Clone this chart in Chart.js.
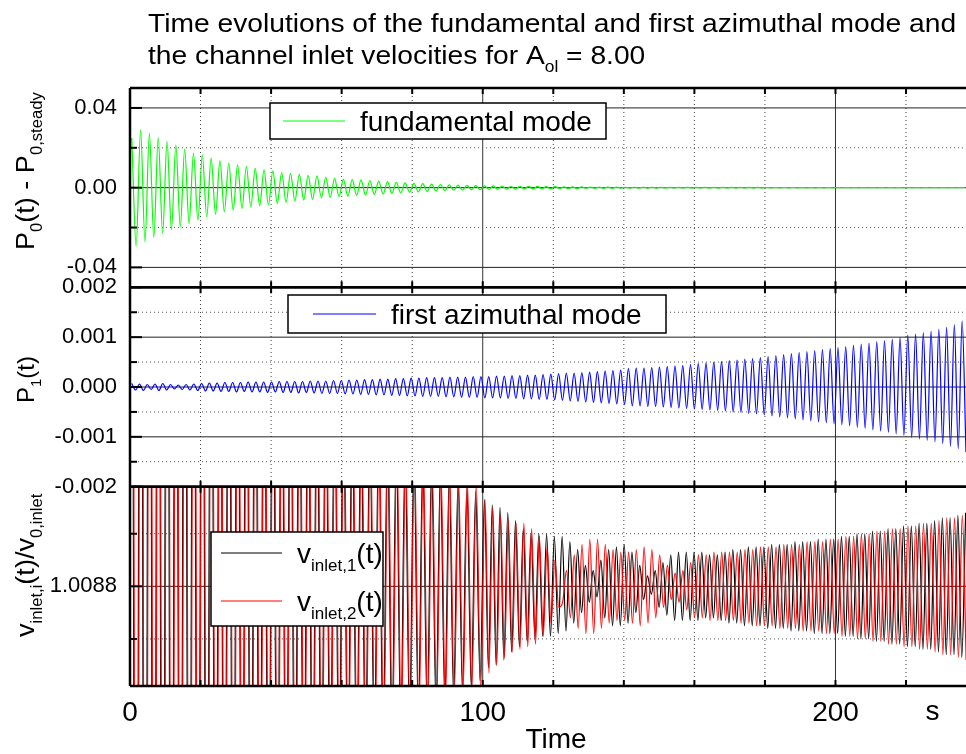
<!DOCTYPE html>
<html>
<head>
<meta charset="utf-8">
<title>Time evolutions of the fundamental and first azimuthal mode</title>
<script src="https://cdn.jsdelivr.net/npm/chart.js@4.4.1/dist/chart.umd.min.js"></script>
<style>
  html, body { margin: 0; padding: 0; background: #fff; }
  canvas { display: block; }
</style>
</head>
<body>
<canvas id="modesChart" width="966" height="754"></canvas>
<script>
// time axis
const timeGrid = [0, 20, 40, 60, 80, 100, 120, 140, 160, 180, 200, 220];
const timeLabels = [0, 100, 200];

// fundamental mode P0(t) - P0,steady : successive peaks and troughs, one every p0Step seconds
const p0Start = 0.5;
const p0Step = 1.25;
const p0Values = [
  0.0249, -0.0294, 0.0291, -0.0272, 0.0274, -0.0250, 0.0252, -0.0230, 0.0232, -0.0210,
  0.0215, -0.0197, 0.0193, -0.0180, 0.0173, -0.0163, 0.0165, -0.0146, 0.0148, -0.0133,
  0.0136, -0.0121, 0.0123, -0.0113, 0.0114, -0.0104, 0.0106, -0.0096, 0.0097, -0.0091,
  0.0089, -0.0087, 0.0084, -0.0079, 0.0076, -0.0074, 0.0072, -0.0067, 0.0067, -0.0062,
  0.0062, -0.0059, 0.0059, -0.0050, 0.0052, -0.0049, 0.0047, -0.0045, 0.0042, -0.0042,
  0.0040, -0.0039, 0.0039, -0.0037, 0.0036, -0.0034, 0.0033, -0.0032, 0.0030, -0.0029,
  0.0027, -0.0026, 0.0024, -0.0023, 0.0022, -0.0021, 0.0020, -0.0019, 0.0018, -0.0017,
  0.0016, -0.0015, 0.0014, -0.0013, 0.0013, -0.0012, 0.0011, -0.0011, 0.0010, -0.0010,
  0.0009, -0.0009, 0.0009, -0.0008, 0.0008, -0.0008, 0.0007, -0.0007, 0.0007, -0.0006,
  0.0006, -0.0006, 0.0006, -0.0005, 0.0005, -0.0005, 0.0005, -0.0004, 0.0004, -0.0004,
  0.0004, -0.0004, 0.0004, -0.0003, 0.0003, -0.0003, 0.0003, -0.0003, 0.0003, -0.0003,
  0.0003, -0.0002, 0.0002, -0.0002, 0.0002, -0.0002, 0.0002, -0.0002, 0.0002, -0.0002,
  0.0002, -0.0001, 0.00015, -0.00015, 0.00015, -0.0001, 0.00012, -0.0001, 0.0001, -0.0001,
  0.0001, -0.0001, 0.0001, -0.0001, 0.0001, -0.0001, 0.0001, -0.0001, 0.0001, -0.0001,
  0.0001, -0.0001, 0.0001, -0.00008, 0.00008, -0.00008, 0.00008, -0.00008, 0.00008, -0.00008,
  0.00008, -0.00006, 0.00006, -0.00006, 0.00006, -0.00006, 0.00006, -0.00006, 0.00006, -0.00006,
  0.00006, -0.00005, 0.00005, -0.00005, 0.00005, -0.00005, 0.00005, -0.00005, 0.00005, -0.00005,
  0.00005, -0.00005, 0.00005, -0.00005, 0.00005, -0.00005, 0.00005, -0.00005, 0.00005, -0.00005,
  0.00005, -0.00005, 0.00005, -0.00005, 0.00005, -0.00005, 0.00005, -0.00005, 0.00005, -0.00005
];

// first azimuthal mode P1(t)
const p1Start = 0.5;
const p1Step = 1.1;
const p1Values = [
  0.00007, -0.00006, 0.00006, -0.00007, 0.00005, -0.00005, 0.00006, -0.00007, 0.00007, -0.00006,
  0.00005, -0.00004, 0.00004, -0.00005, 0.00005, -0.00006, 0.00006, -0.00007, 0.00007, -0.00008,
  0.00008, -0.00008, 0.00008, -0.00009, 0.00009, -0.00009, 0.00009, -0.00010, 0.00009, -0.00009,
  0.00010, -0.00010, 0.00010, -0.00010, 0.00010, -0.00011, 0.00010, -0.00010, 0.00011, -0.00011,
  0.00011, -0.00011, 0.00011, -0.00012, 0.00011, -0.00011, 0.00012, -0.00012, 0.00012, -0.00013,
  0.00012, -0.00013, 0.00013, -0.00013, 0.00013, -0.00014, 0.00014, -0.00014, 0.00014, -0.00015,
  0.00015, -0.00015, 0.00015, -0.00016, 0.00016, -0.00016, 0.00016, -0.00017, 0.00017, -0.00017,
  0.00017, -0.00018, 0.00018, -0.00018, 0.00018, -0.00019, 0.00019, -0.00019, 0.00019, -0.00019,
  0.00019, -0.00020, 0.00020, -0.00020, 0.00020, -0.00021, 0.00020, -0.00021, 0.00021, -0.00021,
  0.00021, -0.00022, 0.00021, -0.00022, 0.00022, -0.00022, 0.00022, -0.00023, 0.00023, -0.00023,
  0.00023, -0.00024, 0.00024, -0.00024, 0.00024, -0.00025, 0.00025, -0.00025, 0.00026, -0.00026,
  0.00027, -0.00027, 0.00028, -0.00028, 0.00028, -0.00029, 0.00029, -0.00030, 0.00030, -0.00031,
  0.00031, -0.00032, 0.00032, -0.00033, 0.00033, -0.00034, 0.00034, -0.00035, 0.00037, -0.00038,
  0.00038, -0.00038, 0.00038, -0.00039, 0.00039, -0.00039, 0.00040, -0.00040, 0.00041, -0.00041,
  0.00042, -0.00042, 0.00043, -0.00043, 0.00045, -0.00044, 0.00047, -0.00045, 0.00048, -0.00046,
  0.00050, -0.00047, 0.00051, -0.00048, 0.00053, -0.00050, 0.00054, -0.00051, 0.00056, -0.00053,
  0.00057, -0.00054, 0.00059, -0.00056, 0.00061, -0.00058, 0.00063, -0.00060, 0.00065, -0.00062,
  0.00067, -0.00064, 0.00069, -0.00066, 0.00071, -0.00068, 0.00073, -0.00070, 0.00075, -0.00072,
  0.00077, -0.00074, 0.00079, -0.00076, 0.00081, -0.00078, 0.00084, -0.00081, 0.00086, -0.00083,
  0.00088, -0.00086, 0.00091, -0.00088, 0.00093, -0.00091, 0.00096, -0.00094, 0.00099, -0.00097,
  0.00104, -0.00101, 0.00106, -0.00104, 0.00109, -0.00107, 0.00112, -0.00110, 0.00116, -0.00114,
  0.00120, -0.00119, 0.00125, -0.00124, 0.00132, -0.00131
];

// channel inlet velocities v_inlet,i(t)/v_0,inlet
// up to t = 100 s the fundamental dominates (extrema every 1.25 s), afterwards the azimuthal mode (every 1.1 s)
const vEarlyStep = 1.25;
const vLateStep = 1.1;

const v1EarlyStart = 0.5;
const v1Early = [
  1.01180, 1.00580, 1.01165, 1.00595, 1.01150, 1.00610, 1.01135, 1.00625, 1.01120, 1.00640,
  1.01105, 1.00655, 1.01092, 1.00668, 1.01080, 1.00680, 1.01068, 1.00692, 1.01057, 1.00703,
  1.01047, 1.00713, 1.01037, 1.00723, 1.01028, 1.00732, 1.01019, 1.00741, 1.01011, 1.00749,
  1.01004, 1.00756, 1.00997, 1.00763, 1.00991, 1.00769, 1.00986, 1.00774, 1.00981, 1.00779,
  1.00976, 1.00784, 1.00970, 1.00790, 1.00965, 1.00795, 1.00960, 1.00800, 1.00956, 1.00804,
  1.00952, 1.00808, 1.00948, 1.00812, 1.00944, 1.00816, 1.00941, 1.00819, 1.00938, 1.00822,
  1.00935, 1.00825, 1.00932, 1.00828, 1.00930, 1.00830, 1.00928, 1.00832, 1.00926, 1.00834,
  1.00924, 1.00836, 1.00922, 1.00838, 1.00920, 1.00840, 1.00918, 1.00842, 1.00916, 1.00844
];
const v1LateStart = 100.5;
const v1Late = [
  1.00913, 1.00849, 1.00911, 1.00850, 1.00910, 1.00852, 1.00908, 1.00855, 1.00905, 1.00857,
  1.00902, 1.00859, 1.00900, 1.00860, 1.00900, 1.00861, 1.00900, 1.00861, 1.00899, 1.00862,
  1.00899, 1.00863, 1.00897, 1.00866, 1.00894, 1.00870, 1.00888, 1.00874, 1.00886, 1.00876,
  1.00890, 1.00868, 1.00894, 1.00865, 1.00895, 1.00865, 1.00896, 1.00866, 1.00893, 1.00870,
  1.00888, 1.00875, 1.00884, 1.00877, 1.00886, 1.00872, 1.00889, 1.00869, 1.00892, 1.00867,
  1.00893, 1.00867, 1.00893, 1.00867, 1.00893, 1.00867, 1.00893, 1.00868, 1.00892, 1.00868,
  1.00892, 1.00867, 1.00893, 1.00866, 1.00894, 1.00866, 1.00894, 1.00865, 1.00895, 1.00865,
  1.00895, 1.00865, 1.00895, 1.00864, 1.00896, 1.00864, 1.00896, 1.00864, 1.00896, 1.00863,
  1.00897, 1.00863, 1.00897, 1.00863, 1.00897, 1.00862, 1.00898, 1.00862, 1.00898, 1.00862,
  1.00898, 1.00862, 1.00899, 1.00861, 1.00899, 1.00861, 1.00900, 1.00860, 1.00900, 1.00860,
  1.00901, 1.00859, 1.00901, 1.00859, 1.00902, 1.00858, 1.00902, 1.00858, 1.00903, 1.00857,
  1.00903, 1.00857, 1.00904, 1.00856, 1.00904, 1.00856, 1.00905, 1.00855, 1.00906, 1.00854,
  1.00906, 1.00854, 1.00907, 1.00853, 1.00908
];

const v2EarlyStart = 0.65;
const v2Early = [
  1.01190, 1.00570, 1.01170, 1.00590, 1.01152, 1.00608, 1.01136, 1.00624, 1.01121, 1.00639,
  1.01106, 1.00654, 1.01093, 1.00667, 1.01081, 1.00679, 1.01069, 1.00691, 1.01058, 1.00702,
  1.01048, 1.00712, 1.01038, 1.00722, 1.01029, 1.00731, 1.01020, 1.00740, 1.01012, 1.00748,
  1.01005, 1.00755, 1.00998, 1.00762, 1.00992, 1.00768, 1.00986, 1.00774, 1.00981, 1.00779,
  1.00976, 1.00784, 1.00971, 1.00789, 1.00966, 1.00794, 1.00961, 1.00799, 1.00957, 1.00803,
  1.00953, 1.00807, 1.00949, 1.00811, 1.00945, 1.00815, 1.00942, 1.00818, 1.00939, 1.00821,
  1.00936, 1.00824, 1.00933, 1.00827, 1.00931, 1.00829, 1.00929, 1.00831, 1.00927, 1.00833,
  1.00925, 1.00835, 1.00923, 1.00837, 1.00921, 1.00839, 1.00920, 1.00840, 1.00919, 1.00841
];
const v2LateStart = 100.65;
const v2Late = [
  1.00913, 1.00847, 1.00910, 1.00850, 1.00907, 1.00853, 1.00905, 1.00855, 1.00904, 1.00856,
  1.00904, 1.00857, 1.00902, 1.00858, 1.00899, 1.00861, 1.00895, 1.00866, 1.00890, 1.00872,
  1.00874, 1.00886, 1.00868, 1.00892, 1.00864, 1.00896, 1.00862, 1.00898, 1.00862, 1.00898,
  1.00864, 1.00896, 1.00866, 1.00894, 1.00867, 1.00893, 1.00867, 1.00893, 1.00866, 1.00894,
  1.00865, 1.00895, 1.00866, 1.00894, 1.00868, 1.00892, 1.00872, 1.00888, 1.00875, 1.00885,
  1.00874, 1.00886, 1.00871, 1.00889, 1.00868, 1.00892, 1.00868, 1.00892, 1.00867, 1.00893,
  1.00867, 1.00893, 1.00867, 1.00893, 1.00867, 1.00893, 1.00866, 1.00894, 1.00866, 1.00894,
  1.00865, 1.00895, 1.00865, 1.00895, 1.00865, 1.00895, 1.00864, 1.00896, 1.00864, 1.00896,
  1.00864, 1.00896, 1.00863, 1.00897, 1.00863, 1.00897, 1.00863, 1.00897, 1.00862, 1.00898,
  1.00862, 1.00898, 1.00861, 1.00899, 1.00861, 1.00899, 1.00860, 1.00900, 1.00860, 1.00900,
  1.00859, 1.00901, 1.00859, 1.00901, 1.00858, 1.00902, 1.00858, 1.00902, 1.00857, 1.00903,
  1.00857, 1.00903, 1.00856, 1.00904, 1.00856, 1.00904, 1.00855, 1.00905, 1.00854, 1.00906,
  1.00854, 1.00906, 1.00853, 1.00907, 1.00852
];

// y ticks per panel
const p0Ticks = [-0.04, -0.02, 0, 0.02, 0.04];
const p0TickLabels = ["-0.04", "", "0.00", "", "0.04"];
const p1Ticks = [-0.002, -0.0015, -0.001, -0.0005, 0, 0.0005, 0.001, 0.0015, 0.002];
const p1TickLabels = ["-0.002", "", "-0.001", "", "0.000", "", "0.001", "", "0.002"];
const vTicks = [1.0086, 1.0088, 1.0090];
const vTickLabels = ["", "1.0088", ""];

const FONT = '"Liberation Sans", Arial, Helvetica, sans-serif';

function toPoints(start, step, values) {
    return values.map((v, i) => ({ x: start + step * i, y: v }));
}

// text with subscripts; sx stretches it along the writing direction
function drawRich(ctx, parts, x, y, size, sx) {
    ctx.save();
    ctx.translate(x, y);
    ctx.scale(sx || 1, 1);
    let cx = 0;
    ctx.textAlign = "left";
    ctx.textBaseline = "alphabetic";
    parts.forEach(p => {
        ctx.font = (p.sub ? Math.round(size * 0.62) : size) + "px " + FONT;
        ctx.fillText(p.t, cx, p.sub ? size * 0.3 : 0);
        cx += ctx.measureText(p.t).width;
    });
    ctx.restore();
}

function drawVertical(ctx, parts, x, yStart, size, sx) {
    ctx.save();
    ctx.translate(x, yStart);
    ctx.rotate(-Math.PI / 2);
    drawRich(ctx, parts, 0, 0, size, sx);
    ctx.restore();
}

function legendBox(ctx, box, entries) {
    ctx.save();
    ctx.fillStyle = "#fff";
    ctx.fillRect(box.x, box.y, box.w, box.h);
    ctx.strokeStyle = "#000";
    ctx.lineWidth = 1.5;
    ctx.strokeRect(box.x, box.y, box.w, box.h);
    entries.forEach(e => {
        ctx.strokeStyle = e.color;
        ctx.lineWidth = 1.2;
        ctx.beginPath();
        ctx.moveTo(e.x0, e.y);
        ctx.lineTo(e.x1, e.y);
        ctx.stroke();
        ctx.fillStyle = "#000";
        drawRich(ctx, e.text, e.x1 + 15, e.y + 10, 28);
    });
    ctx.restore();
}

const panelAxes = [
    { id: "yP0", ticks: p0Ticks, labels: p0TickLabels },
    { id: "yP1", ticks: p1Ticks, labels: p1TickLabels },
    { id: "yV", ticks: vTicks, labels: vTickLabels }
];

const panelPlugin = {
    id: "panelPlugin",
    beforeDatasetsDraw(chart) {
        const { ctx, chartArea: a, scales } = chart;
        ctx.save();
        ctx.lineWidth = 1;
        timeGrid.forEach(v => {
            if (v === 0) return;
            const x = scales.x.getPixelForValue(v);
            const solid = timeLabels.includes(v);
            ctx.strokeStyle = solid ? "#333" : "#444";
            ctx.setLineDash(solid ? [] : [1, 3]);
            ctx.beginPath();
            ctx.moveTo(x, a.top);
            ctx.lineTo(x, a.bottom);
            ctx.stroke();
        });
        panelAxes.forEach(p => {
            const s = scales[p.id];
            p.ticks.forEach((v, i) => {
                const y = s.getPixelForValue(v);
                if (Math.abs(y - s.top) < 2 || Math.abs(y - s.bottom) < 2) return;
                const solid = p.labels[i] !== "";
                ctx.strokeStyle = solid ? "#222" : "#555";
                ctx.setLineDash(solid ? [] : [1, 3]);
                ctx.beginPath();
                ctx.moveTo(a.left, y);
                ctx.lineTo(a.right, y);
                ctx.stroke();
            });
        });
        ctx.restore();
    },
    beforeDatasetDraw(chart, args) {
        // keep each curve inside its own panel
        const ds = chart.data.datasets[args.index];
        const s = chart.scales[ds.yAxisID];
        const a = chart.chartArea;
        chart.ctx.save();
        chart.ctx.beginPath();
        chart.ctx.rect(a.left, s.top, a.right - a.left, s.bottom - s.top);
        chart.ctx.clip();
    },
    afterDatasetDraw(chart) {
        chart.ctx.restore();
    },
    afterDatasetsDraw(chart) {
        const { ctx, chartArea: a, scales } = chart;
        ctx.save();
        ctx.strokeStyle = "#000";
        // inward tick marks
        ctx.lineWidth = 2;
        panelAxes.forEach(p => {
            const s = scales[p.id];
            timeGrid.forEach(v => {
                const x = scales.x.getPixelForValue(v);
                ctx.beginPath();
                ctx.moveTo(x, s.top);
                ctx.lineTo(x, s.top + 6);
                ctx.moveTo(x, s.bottom);
                ctx.lineTo(x, s.bottom - 6);
                ctx.stroke();
            });
            p.ticks.forEach((v, i) => {
                const y = s.getPixelForValue(v);
                const len = p.labels[i] !== "" ? 12 : 7;
                ctx.beginPath();
                ctx.moveTo(a.left, y);
                ctx.lineTo(a.left + len, y);
                ctx.stroke();
            });
        });
        // panel frames
        ctx.lineWidth = 2.5;
        panelAxes.forEach(p => {
            const s = scales[p.id];
            ctx.beginPath();
            ctx.moveTo(a.left, s.top);
            ctx.lineTo(a.right, s.top);
            ctx.moveTo(a.left, s.bottom);
            ctx.lineTo(a.right, s.bottom);
            ctx.stroke();
        });
        ctx.beginPath();
        ctx.moveTo(a.left, a.top);
        ctx.lineTo(a.left, a.bottom);
        ctx.stroke();
        ctx.restore();
    },
    afterDraw(chart) {
        const ctx = chart.ctx;
        ctx.save();
        ctx.fillStyle = "#000";

        // title
        drawRich(ctx, [{ t: "Time evolutions of the fundamental and first azimuthal mode and" }], 148, 32, 26, 1.085);
        drawRich(ctx, [
            { t: "the channel inlet velocities for A" },
            { t: "ol", sub: true },
            { t: " = 8.00" }
        ], 148, 64, 26, 1.085);

        // axis titles
        drawVertical(ctx, [
            { t: "P" }, { t: "0", sub: true }, { t: "(t) - P" }, { t: "0,steady", sub: true }
        ], 34, 250, 26, 1.04);
        drawVertical(ctx, [{ t: "P" }, { t: "1", sub: true }, { t: "(t)" }], 34, 403, 24);
        drawVertical(ctx, [
            { t: "v" }, { t: "inlet,i", sub: true }, { t: "(t)/v" }, { t: "0,inlet", sub: true }
        ], 34, 637, 26, 1.04);

        ctx.font = "28px " + FONT;
        ctx.textAlign = "center";
        ctx.textBaseline = "middle";
        ctx.fillText("s", chart.scales.x.getPixelForValue(227.5), 712);
        ctx.fillText("Time", 556, 740);

        // legends
        legendBox(ctx, { x: 270, y: 103, w: 336, h: 36 }, [
            { x0: 283, x1: 345, y: 121, color: "#00ff00", text: [{ t: "fundamental mode" }] }
        ]);
        legendBox(ctx, { x: 288, y: 295, w: 378, h: 38 }, [
            { x0: 313, x1: 376, y: 314, color: "#0000ff", text: [{ t: "first azimuthal mode" }] }
        ]);
        legendBox(ctx, { x: 211, y: 532, w: 172, h: 94 }, [
            { x0: 221, x1: 282, y: 553, color: "#000000", text: [{ t: "v" }, { t: "inlet,1", sub: true }, { t: "(t)" }] },
            { x0: 221, x1: 282, y: 601, color: "#ff0000", text: [{ t: "v" }, { t: "inlet,2", sub: true }, { t: "(t)" }] }
        ]);
        ctx.restore();
    }
};

function yAxis(ticks, labels, min, max) {
    return {
        type: "linear",
        position: "left",
        stack: "panels",
        stackWeight: 1,
        min: min,
        max: max,
        afterBuildTicks: s => { s.ticks = ticks.map(v => ({ value: v })); },
        afterFit: s => { s.width = 130; },
        grid: { display: false, drawTicks: false },
        border: { display: false },
        ticks: {
            autoSkip: false,
            padding: 13,
            color: "#000",
            font: { family: FONT, size: 22 },
            callback: (v, i) => labels[i]
        }
    };
}

const lineStyle = { pointRadius: 0, fill: false, cubicInterpolationMode: "monotone" };

new Chart(document.getElementById("modesChart"), {
    type: "line",
    data: {
        datasets: [
            Object.assign({ label: "fundamental mode", yAxisID: "yP0", borderColor: "#00ff00", borderWidth: 1.2,
                data: toPoints(p0Start, p0Step, p0Values) }, lineStyle),
            Object.assign({ label: "first azimuthal mode", yAxisID: "yP1", borderColor: "#0000ff", borderWidth: 1.2,
                data: toPoints(p1Start, p1Step, p1Values) }, lineStyle),
            Object.assign({ label: "v_inlet,2(t)", yAxisID: "yV", borderColor: "#ff0000", borderWidth: 1.2,
                data: toPoints(v2EarlyStart, vEarlyStep, v2Early).concat(toPoints(v2LateStart, vLateStep, v2Late)) }, lineStyle),
            Object.assign({ label: "v_inlet,1(t)", yAxisID: "yV", borderColor: "#000000", borderWidth: 1.2,
                data: toPoints(v1EarlyStart, vEarlyStep, v1Early).concat(toPoints(v1LateStart, vLateStep, v1Late)) }, lineStyle)
        ]
    },
    options: {
        responsive: false,
        devicePixelRatio: 1,
        animation: false,
        layout: { padding: { top: 88, right: 0, bottom: 0, left: 0 } },
        plugins: { legend: { display: false }, tooltip: { enabled: false } },
        scales: {
            x: {
                type: "linear",
                min: 0,
                max: 237,
                afterBuildTicks: s => { s.ticks = timeGrid.map(v => ({ value: v })); },
                afterFit: s => { s.height = 68; },
                grid: { display: false, drawTicks: false },
                border: { display: false },
                ticks: {
                    autoSkip: false,
                    maxRotation: 0,
                    padding: 10,
                    color: "#000",
                    font: { family: FONT, size: 28 },
                    callback: v => timeLabels.includes(v) ? String(v) : ""
                }
            },
            yV: yAxis(vTicks, vTickLabels, 1.008421, 1.009179),
            yP1: yAxis(p1Ticks, p1TickLabels, -0.002, 0.002),
            yP0: yAxis(p0Ticks, p0TickLabels, -0.05, 0.05)
        }
    },
    plugins: [panelPlugin]
});
</script>
</body>
</html>
